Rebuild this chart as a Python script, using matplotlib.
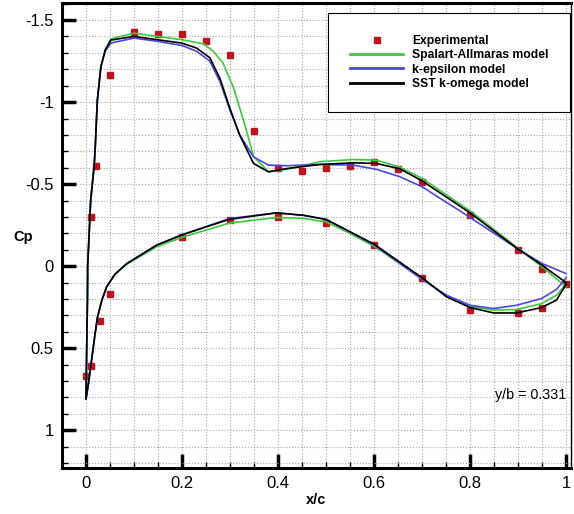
import matplotlib
matplotlib.use("Agg")
import matplotlib.pyplot as plt
from matplotlib.ticker import MultipleLocator, FuncFormatter
from matplotlib.lines import Line2D

plt.rcParams['font.family'] = ['Liberation Sans', 'DejaVu Sans']
plt.rcParams['axes.unicode_minus'] = False

# Experimental points (upper + lower surface)
exp_x = [0.01, 0.02, 0.05, 0.1, 0.15, 0.2, 0.25, 0.3, 0.35, 0.4, 0.45, 0.5, 0.55,
         0.6, 0.65, 0.7, 0.8, 0.9, 0.95, 1.0,
         0.0, 0.01, 0.03, 0.05, 0.2, 0.3, 0.4, 0.5, 0.6, 0.7, 0.8, 0.9, 0.95]
exp_cp = [-0.30, -0.61, -1.165, -1.425, -1.415, -1.415, -1.37, -1.29, -0.825, -0.60,
          -0.58, -0.60, -0.61, -0.635, -0.59, -0.51, -0.31, -0.10, 0.015, 0.11,
          0.67, 0.61, 0.337, 0.167, -0.175, -0.28, -0.30, -0.265, -0.13, 0.075,
          0.27, 0.285, 0.255]

# SST k-omega: trailing edge -> upper surface -> leading edge -> lower surface -> TE
sst_x = [1.0, 0.95, 0.898, 0.8, 0.7, 0.654, 0.605, 0.557, 0.4875, 0.418, 0.38, 0.349,
         0.32, 0.30, 0.279, 0.258, 0.23, 0.199, 0.149, 0.1, 0.052, 0.04, 0.031, 0.0236,
         0.019, 0.017, 0.0097, 0.0035, 0.003, 0.0014, 0.0,
         0.005, 0.0097, 0.019, 0.024, 0.033, 0.043, 0.06, 0.085, 0.147, 0.199, 0.298,
         0.397, 0.453, 0.5, 0.543, 0.6, 0.7, 0.751, 0.8, 0.849, 0.897, 0.949, 0.98, 1.0]
sst_cp = [0.10, -0.006, -0.108, -0.325, -0.52, -0.593, -0.626, -0.63, -0.62, -0.595,
          -0.575, -0.626, -0.80, -0.96, -1.144, -1.27, -1.33, -1.36, -1.38, -1.40,
          -1.378, -1.317, -1.215, -1.01, -0.71, -0.61, -0.40, 0.0, 0.21, 0.51, 0.81,
          0.715, 0.614, 0.41, 0.31, 0.207, 0.126, 0.05, -0.016, -0.128, -0.19, -0.285,
          -0.325, -0.31, -0.285, -0.22, -0.134, 0.07, 0.187, 0.252, 0.285, 0.285,
          0.252, 0.207, 0.11]

# Spalart-Allmaras
sa_x = [1.0, 0.95, 0.898, 0.8, 0.7, 0.654, 0.605, 0.557, 0.4875, 0.418, 0.38, 0.349,
        0.328, 0.307, 0.285, 0.265, 0.245, 0.2, 0.15, 0.1, 0.052, 0.04, 0.031, 0.0236,
        0.019, 0.017, 0.0097, 0.0035, 0.003, 0.0014, 0.0,
        0.005, 0.0097, 0.019, 0.024, 0.033, 0.043, 0.06, 0.085, 0.147, 0.199, 0.298,
        0.397, 0.45, 0.5, 0.543, 0.6, 0.7, 0.75, 0.8, 0.849, 0.897, 0.949, 0.98, 1.0]
sa_cp = [0.126, 0.004, -0.114, -0.337, -0.535, -0.603, -0.646, -0.65, -0.637, -0.59,
         -0.575, -0.67, -0.89, -1.09, -1.24, -1.31, -1.355, -1.38, -1.40, -1.42,
         -1.385, -1.32, -1.215, -1.01, -0.71, -0.61, -0.40, 0.0, 0.21, 0.51, 0.81,
         0.715, 0.614, 0.41, 0.31, 0.207, 0.126, 0.05, -0.012, -0.118, -0.175, -0.262,
         -0.297, -0.292, -0.27, -0.21, -0.122, 0.075, 0.18, 0.245, 0.268, 0.264,
         0.228, 0.177, 0.11]

# k-epsilon
ke_x = [1.0, 0.95, 0.898, 0.8, 0.7, 0.654, 0.605, 0.557, 0.4875, 0.418, 0.38, 0.349,
        0.32, 0.30, 0.279, 0.258, 0.23, 0.2, 0.15, 0.1, 0.052, 0.04, 0.031, 0.0236,
        0.019, 0.017, 0.0097, 0.0035, 0.003, 0.0014, 0.0,
        0.005, 0.0097, 0.019, 0.024, 0.033, 0.043, 0.06, 0.085, 0.147, 0.199, 0.298,
        0.397, 0.453, 0.5, 0.543, 0.6, 0.697, 0.751, 0.8, 0.849, 0.897, 0.949, 0.98, 1.0]
ke_cp = [0.045, -0.016, -0.108, -0.297, -0.484, -0.545, -0.59, -0.616, -0.62, -0.612,
         -0.616, -0.666, -0.80, -0.95, -1.125, -1.25, -1.31, -1.345, -1.37, -1.39,
         -1.36, -1.31, -1.215, -1.01, -0.71, -0.61, -0.40, 0.0, 0.21, 0.51, 0.81,
         0.715, 0.614, 0.41, 0.31, 0.207, 0.126, 0.05, -0.016, -0.128, -0.19, -0.29,
         -0.325, -0.31, -0.285, -0.22, -0.13, 0.075, 0.177, 0.238, 0.258, 0.238,
         0.197, 0.142, 0.07]

x_ticks = [0, 0.2, 0.4, 0.6, 0.8, 1.0]
y_ticks = [-1.5, -1.0, -0.5, 0.0, 0.5, 1.0]

green = '#3ec83e'
blue = '#4848e0'
red = '#c0141c'

fig = plt.figure(figsize=(5.74, 5.14), dpi=100)
ax = fig.add_axes([0.108, 0.0895, 0.887, 0.905])

ax.plot(exp_x, exp_cp, 's', color=red, markersize=4.5, linestyle='none', zorder=2)
ax.plot(sa_x, sa_cp, color=green, lw=1.2, zorder=3)
ax.plot(ke_x, ke_cp, color=blue, lw=1.2, zorder=3)
ax.plot(sst_x, sst_cp, color='black', lw=1.2, zorder=4)

ax.set_xlim(-0.05, 1.0105)
ax.set_ylim(1.23, -1.605)

ax.set_xticks(x_ticks)
ax.set_yticks(y_ticks)
ax.xaxis.set_minor_locator(MultipleLocator(0.05))
ax.yaxis.set_minor_locator(MultipleLocator(0.1))
fmt = FuncFormatter(lambda v, p: '%g' % v)
ax.xaxis.set_major_formatter(fmt)
ax.yaxis.set_major_formatter(fmt)

ax.grid(True, which='both', linestyle=':', color='#a8a8a8', linewidth=0.8)
ax.set_axisbelow(True)

ax.tick_params(which='major', direction='in', length=10, width=2.5, labelsize=12, pad=6,
               top=False, right=False)
ax.tick_params(which='minor', direction='in', length=4, width=1, top=False, right=False)
for side in ['left', 'bottom', 'top']:
    ax.spines[side].set_linewidth(2.2)
ax.spines['right'].set_linewidth(1.0)

ax.set_xlabel('x/c', fontsize=10.5, fontweight='bold', labelpad=1)
ax.text(-0.077, 0.497, 'Cp', transform=ax.transAxes, fontsize=10.5,
        fontweight='bold', ha='center', va='center')

ax.text(0.851, 0.81, 'y/b = 0.331', fontsize=10.3)

handles = [
    Line2D([], [], marker='s', color=red, linestyle='none', markersize=4.5),
    Line2D([], [], color=green, lw=2),
    Line2D([], [], color=blue, lw=2),
    Line2D([], [], color='black', lw=2),
]
labels = ['Experimental', 'Spalart-Allmaras model', 'k-epsilon model', 'SST k-omega model']
leg = ax.legend(handles, labels, loc='upper right', bbox_to_anchor=(0.998, 0.978),
                prop={'weight': 'bold', 'size': 8.7}, frameon=True, fancybox=False,
                edgecolor='black', framealpha=1, borderpad=1.8, handlelength=4.4,
                handletextpad=0.7, labelspacing=0.2, borderaxespad=0)
leg.get_frame().set_linewidth(0.8)

fig.savefig('out.png', dpi=100)
